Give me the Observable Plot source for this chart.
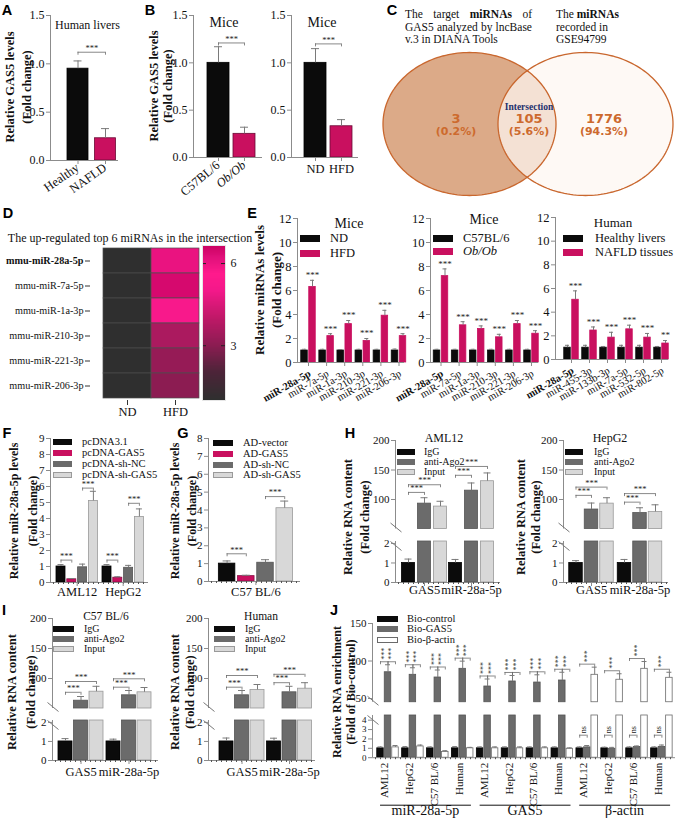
<!DOCTYPE html>
<html><head><meta charset="utf-8">
<script src="https://cdn.jsdelivr.net/npm/d3@7"></script>
<script src="https://cdn.jsdelivr.net/npm/@observablehq/plot@0.6"></script>
<style>
html,body{margin:0;padding:0;background:#fff}
#fig{position:relative;width:675px;height:821px;overflow:hidden;background:#fff}
</style></head><body><div id="fig"></div>
<script>
// ================= DATA =================
// A
const aGroups = ["Healthy", "NAFLD"];
const aMeans = [0.95, 0.23];
const aErrs = [1.03, 0.33];
const aSig = [[0, 0, 1, 0, 1.12, "***"]];
// B
const bObGroups = ["C57BL/6", "Ob/Ob"];
const bObMeans = [1.0, 0.25];
const bObErrs = [1.17, 0.32];
const bObSig = [[0, 0, 1, 0, 1.21, "***"]];
const bHfdGroups = ["ND", "HFD"];
const bHfdMeans = [1.0, 0.33];
const bHfdErrs = [1.15, 0.40];
const bHfdSig = [[0, 0, 1, 0, 1.2, "***"]];
// C
const vennCounts = [3, 105, 1776];
const vennPercents = ["(0.2%)", "(5.6%)", "(94.3%)"];
// D
const dMiRNAs = ["mmu-miR-28a-5p", "mmu-miR-7a-5p", "mmu-miR-1a-3p", "mmu-miR-210-3p", "mmu-miR-221-3p", "mmu-miR-206-3p"];
const dConditions = ["ND", "HFD"];
const dND = [1, 1, 1, 1, 1, 1];
const dHFD = [6.0, 6.4, 5.2, 3.6, 3.2, 3.0];
const dColorTicks = [3, 6];
const dColorDomain = [1, 6.66];
// E
const eMiceMiRNAs = ["miR-28a-5p", "miR-7a-5p", "miR-1a-3p", "miR-210-3p", "miR-221-3p", "miR-206-3p"];
const eHumanMiRNAs = ["miR-28a-5p", "miR-455-3p", "miR-133b-3p", "miR-7a-5p", "miR-532-5p", "miR-802-5p"];
const eND = [1, 1, 1, 1, 1, 1];
const eNDErr = [1.1, 1.1, 1.08, 1.1, 1.1, 1.12];
const eHFD = [6.3, 2.2, 3.2, 1.8, 3.9, 2.2];
const eHFDErr = [6.85, 2.4, 3.5, 2.0, 4.35, 2.4];
const eC57 = [1, 1, 1, 1, 1, 1];
const eC57Err = [1.1, 1.1, 1.1, 1.1, 1.1, 1.1];
const eOb = [7.2, 3.1, 2.8, 2.1, 3.2, 2.4];
const eObErr = [7.8, 3.4, 3.05, 2.35, 3.5, 2.65];
const eHealthy = [1, 1, 1, 1, 1, 1];
const eHealthyErr = [1.2, 1.2, 1.1, 1.2, 1.2, 1.1];
const eNAFLD = [5.05, 2.45, 1.85, 2.55, 1.85, 1.35];
const eNAFLDErr = [5.8, 2.75, 2.3, 2.9, 2.2, 1.6];
const eMiceSig = ["***", "***", "***", "***", "***", "***"];
const eHumanSig = ["***", "***", "***", "***", "***", "**"];
// F
const fGroups = ["AML12", "HepG2"];
const fSeries = ["pcDNA3.1", "pcDNA-GAS5", "pcDNA-sh-NC", "pcDNA-sh-GAS5"];
const fMeans = [[1.0, 1.0], [0.2, 0.3], [0.95, 0.92], [5.1, 4.1]];
const fErrs = [[1.12, 1.12], [0.25, 0.36], [1.15, 1.07], [5.7, 4.6]];
const fSig = [[0, 0, 0, 1, 1.4, "***"], [0, 2, 0, 3, 5.9, "***"], [1, 0, 1, 1, 1.4, "***"], [1, 2, 1, 3, 4.95, "***"]];
// G
const gGroups = ["C57 BL/6"];
const gSeries = ["AD-vector", "AD-GAS5", "AD-sh-NC", "AD-sh-GAS5"];
const gMeans = [[1.0], [0.3], [1.05], [4.1]];
const gErrs = [[1.15], [0.35], [1.22], [4.5]];
const gSig = [[0, 0, 0, 1, 1.55, "***"], [0, 2, 0, 3, 4.75, "***"]];
// H
const hGroups = ["GAS5", "miR-28a-5p"];
const hSeries = ["IgG", "anti-Ago2", "Input"];
const hAML12Means = [[1, 1], [93, 115], [88, 131]];
const hAML12Errs = [[1.2, 1.18], [103, 128], [97, 145]];
const hAML12Sig = [[0, 0, 0, 1, 112, "***"], [0, 0, 0, 2, 125, "***"], [1, 0, 1, 1, 141, "***"], [1, 0, 1, 2, 156, "***"]];
const hHepG2Means = [[1, 1], [83, 77], [93, 79]];
const hHepG2Errs = [[1.12, 1.18], [94, 86], [103, 91]];
const hHepG2Sig = [[0, 0, 0, 1, 107, "***"], [0, 0, 0, 2, 121, "***"], [1, 0, 1, 1, 95.5, "***"], [1, 0, 1, 2, 110, "***"]];
// I
const iC57Means = [[1, 1], [63, 72], [78, 77]];
const iC57Errs = [[1.15, 1.12], [70, 80], [87, 85]];
const iC57Sig = [[0, 0, 0, 1, 77, "***"], [0, 0, 0, 2, 95, "***"], [1, 0, 1, 1, 85.5, "***"], [1, 0, 1, 2, 99.5, "***"]];
const iHumanMeans = [[1, 1], [72, 77], [81, 83]];
const iHumanErrs = [[1.18, 1.17], [80, 87], [90, 93]];
const iHumanSig = [[0, 0, 0, 1, 85.5, "***"], [0, 0, 0, 2, 105, "***"], [1, 0, 1, 1, 93, "***"], [1, 0, 1, 2, 107, "***"]];
// J
const jCategories = ["miR-28a-5p", "GAS5", "β-actin"];
const jSources = ["AML12", "HepG2", "C57 BL/6", "Human"];
const jSeries = ["Bio-control", "Bio-GAS5", "Bio-β-actin"];
const jControl = [1, 1, 1, 1, 1, 1, 1, 1, 1, 1, 1, 1];
const jControlErr = [1.15, 1.18, 1.15, 1.18, 1.15, 1.15, 1.15, 1.15, 1.15, 1.12, 1.15, 1.15];
const jGAS5 = [85, 81.6, 78, 89.6, 66, 72.7, 71.3, 74, 1.1, 0.95, 1.15, 1.15];
const jGAS5Err = [95, 91, 88, 99.8, 76, 80.7, 81.6, 85, 1.3, 1.1, 1.25, 1.35];
const jActin = [1.1, 1.2, 0.6, 1.0, 1.0, 1.0, 1.0, 0.95, 81.6, 75, 89.6, 77.6];
const jActinErr = [1.3, 1.35, 0.75, 1.1, 1.15, 1.15, 1.15, 1.05, 91.8, 83, 99.3, 85];
const jStarLabel = "***";
const jNsLabel = "ns";

// ================= STYLE =================
const SERIF = '"Liberation Serif","Times New Roman",Times,serif';
const SANS = '"Liberation Sans",Arial,Helvetica,sans-serif';
const BLACK = "#0b0b0b", MAG = "#c9105f", DG = "#6b6b6b", LG = "#d8d8d8", WH = "#ffffff";
const AX = "#8c8c8c", ERR = "#7a7a7a", BR = "#6a6a6a";
const D_STOPS = [1, 2, 3, 4, 5, 5.6, 6.2, 6.66];
const D_COLORS = ["#2f2f2f", "#4c2438", "#8c1c52", "#c01868", "#f4188a", "#ff1a8c", "#e0107a", "#c8005f"];

const fig = document.getElementById("fig");
const M = 90;

function mount(box, specFn) {
  const X = px => px - (box.x0 - M), Y = py => py - (box.y0 - M);
  const spec = specFn({X, Y});
  const W = box.x1 - box.x0 + 2 * M, H = box.y1 - box.y0 + 2 * M;
  const svg = Plot.plot({
    width: W, height: H,
    marginLeft: M, marginRight: M, marginTop: M, marginBottom: M,
    style: {background: "transparent", overflow: "visible", fontFamily: SERIF, fontSize: "11px", color: "#111"},
    ...spec
  });
  Object.assign(svg.style, {position: "absolute", left: (box.x0 - M) + "px", top: (box.y0 - M) + "px", maxWidth: "none", width: W + "px", height: H + "px"});
  fig.append(svg);
}

const toSig = (arr, rot = false) => arr.map(([g1, s1, g2, s2, y, t]) => ({g1, s1, g2, s2, y, t, rot}));

function barSeg(c) {
  const n = c.vals.length;
  const u = 1 / c.step;
  const P = (i, k) => i + (k - (n - 1) / 2) * c.sp * u;
  const hw = c.bw / 2 * u, cap = (c.capPx ?? 3) * u;
  const lo = c.lo, hi = c.hi;
  const uy = (hi - lo) / (c.box.y1 - c.box.y0);
  const xd = [(c.box.x0 - c.c0) * u, (c.box.x1 - c.c0) * u];
  const rows = c.groups.flatMap((g, i) => c.vals.map((vs, k) => ({g, i, k, v: vs[i], e: c.errs[k][i]})));
  const fillOf = c.fillOf ?? (d => c.fills[d.k]);
  const strokeOf = c.strokeOf ?? (d => c.strokes[d.k]);
  const marks = [];
  marks.push(Plot.rect(rows.filter(d => d.v > lo), {
    x1: d => P(d.i, d.k) - hw, x2: d => P(d.i, d.k) + hw,
    y1: () => lo, y2: d => Math.min(d.v, hi),
    fill: fillOf, stroke: strokeOf, strokeWidth: 0.8
  }));
  const errRows = rows.filter(d => d.e > lo && d.e <= hi && d.e > d.v);
  marks.push(Plot.ruleX(errRows, {x: d => P(d.i, d.k), y1: d => Math.max(d.v, lo), y2: "e", stroke: ERR, strokeWidth: 1}));
  marks.push(Plot.ruleY(errRows, {y: "e", x1: d => P(d.i, d.k) - cap, x2: d => P(d.i, d.k) + cap, stroke: ERR, strokeWidth: 1}));
  if (c.stars) {
    marks.push(Plot.text(rows.filter(d => d.k === c.starSeries && d.e > lo && d.e <= hi), {
      x: d => P(d.i, d.k), y: "e", text: d => c.stars[d.i], dy: -5, fontSize: 9, fill: "#222"}));
  }
  if (c.sig && c.sig.length) {
    const drop = (c.dropPx ?? 3) * uy;
    const sx1 = s => P(s.g1, s.s1), sx2 = s => P(s.g2, s.s2);
    marks.push(Plot.ruleY(c.sig, {y: "y", x1: sx1, x2: sx2, stroke: BR, strokeWidth: 0.8}));
    const ends = c.sig.flatMap(s => [{x: sx1(s), y: s.y}, {x: sx2(s), y: s.y}]);
    marks.push(Plot.ruleX(ends, {x: "x", y1: "y", y2: d => d.y - drop, stroke: BR, strokeWidth: 0.8}));
    const flat = c.sig.filter(s => !s.rot), rot = c.sig.filter(s => s.rot);
    if (flat.length) marks.push(Plot.text(flat, {x: s => (sx1(s) + sx2(s)) / 2, y: "y", text: "t", dy: -4, fontSize: 8.5, fill: "#222"}));
    if (rot.length) marks.push(Plot.text(rot, {x: s => (sx1(s) + sx2(s)) / 2, y: "y", text: "t", rotate: -90, textAnchor: "start", dy: -2, fontSize: 8, fill: "#222"}));
  }
  marks.push(Plot.ruleX([xd[0]], {stroke: AX, strokeWidth: 1}));
  if (c.yTicks) marks.push(Plot.axisY({ticks: c.yTicks, tickFormat: c.yFmt ?? (d => String(d)), tickSize: 4, tickPadding: 2, fontSize: c.tickFont ?? 11, stroke: AX, fill: "#111", label: null}));
  if (c.bottom) {
    marks.push(Plot.ruleY([lo], {stroke: AX, strokeWidth: 1}));
    if (c.minor) marks.push(Plot.axisX({ticks: d3.range(xd[0] + 3 * u, xd[1], 5 * u), tickSize: 2, tickFormat: () => "", stroke: "#555", label: null}));
    if (c.major !== false) marks.push(Plot.axisX({ticks: d3.range(c.groups.length), tickSize: 4, tickFormat: () => "", stroke: AX, label: null}));
    if (c.labels) {
      const L = c.labels;
      const lab = L.texts.map((t, i) => ({i, t, st: (L.styles && L.styles[i]) || "normal"}));
      for (const st of ["normal", "bold", "italic"]) {
        const sub = lab.filter(d => d.st === st);
        if (!sub.length) continue;
        marks.push(Plot.text(sub, {x: "i", text: "t", frameAnchor: "bottom", dy: L.dy, dx: L.dx ?? 0,
          rotate: L.rotate ?? 0, textAnchor: L.anchor ?? (L.rotate ? "end" : "middle"),
          fontSize: L.size ?? 12, fontWeight: st === "bold" ? "bold" : "normal",
          fontStyle: st === "italic" ? "italic" : "normal", fill: "#111"}));
      }
    }
  }
  if (c.slash) {
    const xs = xd[0];
    const yc = c.slash === "bottom" ? lo + 2 * uy : hi - 4 * uy;
    marks.push(Plot.link([0], {x1: () => xs - 5 * u, y1: () => yc + 4 * uy, x2: () => xs + 6 * u, y2: () => yc - 5 * uy, stroke: "#777", strokeWidth: 1}));
  }
  if (c.extra) marks.push(...c.extra());
  mount(c.box, () => ({x: {domain: xd, axis: null}, y: {domain: [lo, hi], axis: null}, color: {type: "identity"}, marks}));
}

function broken(c) {
  const common = {groups: c.groups, vals: c.vals, errs: c.errs, fills: c.fills, strokes: c.strokes,
    c0: c.c0, step: c.step, sp: c.sp, bw: c.bw, capPx: c.capPx};
  barSeg({...common, box: {x0: c.x0, x1: c.x1, y0: c.up.y0, y1: c.up.y1}, lo: c.up.lo, hi: c.up.hi,
    yTicks: c.up.ticks, tickFont: c.up.font, sig: c.sigUp, slash: "bottom"});
  barSeg({...common, box: {x0: c.x0, x1: c.x1, y0: c.dn.y0, y1: c.dn.y1}, lo: c.dn.lo, hi: c.dn.hi,
    yTicks: c.dn.ticks, tickFont: c.dn.font, sig: c.sigDn, slash: "top", bottom: true, minor: true,
    major: c.major, labels: c.labels, extra: c.extra});
}

// ---------- HTML text helpers ----------
function label(html, x, y, o = {}) {
  const d = document.createElement("div");
  d.innerHTML = html;
  const ax = o.anchor === "start" ? "0%" : o.anchor === "end" ? "-100%" : "-50%";
  Object.assign(d.style, {
    position: "absolute", left: x + "px", top: y + "px", whiteSpace: "nowrap", lineHeight: "1",
    fontFamily: o.family || SERIF, fontSize: (o.size || 12) + "px", fontWeight: o.weight || "normal",
    fontStyle: o.style || "normal", color: o.color || "#111",
    transform: `translate(${ax},-50%)` + (o.rotate ? ` rotate(${o.rotate}deg)` : "")
  });
  fig.append(d);
  return d;
}
function swatch(x, y, w, h, fill, stroke) {
  const d = document.createElement("div");
  Object.assign(d.style, {position: "absolute", left: x + "px", top: (y - h / 2) + "px", width: w + "px", height: h + "px",
    background: fill, border: stroke ? `1px solid ${stroke}` : "none", boxSizing: "border-box"});
  fig.append(d);
}
function legend(names, styles, sx, sw, sh, tx, ys, size, italics = []) {
  names.forEach((name, j) => {
    swatch(sx, ys[j], sw, sh, styles[j][0], styles[j][1]);
    label(name, tx, ys[j], {anchor: "start", size, style: italics[j] ? "italic" : "normal"});
  });
}
function ytitle(l1, l2, x1, x2, y, size) {
  label(l1, x1, y, {rotate: -90, weight: "bold", size});
  label(l2, x2, y, {rotate: -90, weight: "bold", size});
}
function justifiedLine(words, x, y, w, size) {
  const d = document.createElement("div");
  Object.assign(d.style, {position: "absolute", left: x + "px", top: (y - size / 2) + "px", width: w + "px",
    display: "flex", justifyContent: "space-between", fontFamily: SERIF, fontSize: size + "px", lineHeight: "1", color: "#111", whiteSpace: "nowrap"});
  d.innerHTML = words.map(wd => `<span>${wd}</span>`).join("");
  fig.append(d);
}

// ================= PANEL A =================
barSeg({box: {x0: 50, x1: 118, y0: 15, y1: 160}, groups: aGroups, vals: [aMeans], errs: [aErrs],
  fillOf: d => [BLACK, MAG][d.i], strokeOf: d => ["#000", "#6a0a35"][d.i],
  c0: 77.5, step: 27.5, sp: 0, bw: 21, lo: 0, hi: 1.5, yTicks: [0, 0.5, 1, 1.5], yFmt: d3.format(".1f"), tickFont: 12,
  bottom: true, capPx: 4, sig: toSig(aSig),
  labels: {texts: aGroups, rotate: -35, dy: 9, dx: 2, size: 12.5}});

// ================= PANEL B =================
barSeg({box: {x0: 193, x1: 262, y0: 15, y1: 157}, groups: bObGroups, vals: [bObMeans], errs: [bObErrs],
  fillOf: d => [BLACK, MAG][d.i], strokeOf: d => ["#000", "#6a0a35"][d.i],
  c0: 218, step: 26, sp: 0, bw: 22, lo: 0, hi: 1.5, yTicks: [0, 0.5, 1, 1.5], yFmt: d3.format(".1f"), tickFont: 12,
  bottom: true, capPx: 4, sig: toSig(bObSig),
  labels: {texts: bObGroups, styles: ["normal", "italic"], rotate: -40, dy: 9, dx: 2, size: 12.5}});
barSeg({box: {x0: 291, x1: 358, y0: 15, y1: 157}, groups: bHfdGroups, vals: [bHfdMeans], errs: [bHfdErrs],
  fillOf: d => [BLACK, MAG][d.i], strokeOf: d => ["#000", "#6a0a35"][d.i],
  c0: 315, step: 26, sp: 0, bw: 22, lo: 0, hi: 1.5, yTicks: [0, 0.5, 1, 1.5], yFmt: d3.format(".1f"), tickFont: 12,
  bottom: true, capPx: 4, sig: toSig(bHfdSig),
  labels: {texts: bHfdGroups, dy: 15, size: 12.5}});

// ================= PANEL C (Venn) =================
{
  const L = {cx: 87, cy: 71.5, rx: 86.5, ry: 71.5}, R = {cx: 203, cy: 71.5, rx: 87.5, ry: 71.5};
  const ell = e => d3.range(0, 360, 2).map(a => ({x: e.cx + e.rx * Math.cos(a * Math.PI / 180), y: e.cy + e.ry * Math.sin(a * Math.PI / 180)}));
  const pl = ell(L), pr = ell(R);
  const lx = [L.cx - 13.5, (L.cx + R.cx) / 2 + 1.5, R.cx + 18.5];
  const ORG = "#cd6a2e";
  mount({x0: 381.5, x1: 671.5, y0: 52, y1: 195}, () => ({
    x: {domain: [0, 290], axis: null}, y: {domain: [143, 0], axis: null},
    marks: [
      Plot.line(pl, {x: "x", y: "y", curve: "linear-closed", fill: "#dcaa88", stroke: "none"}),
      Plot.line(pr, {x: "x", y: "y", curve: "linear-closed", fill: "#fdf6f1", fillOpacity: 0.72, stroke: "none"}),
      Plot.line(pl, {x: "x", y: "y", curve: "linear-closed", stroke: "#c9672e", strokeWidth: 1.3}),
      Plot.line(pr, {x: "x", y: "y", curve: "linear-closed", stroke: "#c9672e", strokeWidth: 1.3}),
      Plot.text(["Intersection"], {x: () => lx[1], y: () => 54, text: d => d, fontWeight: "bold", fontSize: 9.5, fill: "#22306e", fontFamily: SERIF}),
      Plot.text(vennCounts, {x: (d, i) => lx[i], y: () => 66, text: d => String(d), fontWeight: "bold", fontSize: 13, fill: ORG, fontFamily: '"DejaVu Sans",Verdana,sans-serif'}),
      Plot.text(vennPercents, {x: (d, i) => lx[i], y: () => 78.5, text: d => d, fontWeight: "bold", fontSize: 11, fill: ORG, fontFamily: '"DejaVu Sans",Verdana,sans-serif'})
    ]
  }));
}

// ================= PANEL D (heatmap) =================
{
  const dRows = dMiRNAs.flatMap((m, r) => [{m, c: dConditions[0], v: dND[r]}, {m, c: dConditions[1], v: dHFD[r]}]);
  const colorOpt = {type: "linear", domain: D_STOPS, range: D_COLORS, clamp: true};
  mount({x0: 90, x1: 199, y0: 245, y1: 400}, ({X}) => ({
    x: {type: "band", domain: dConditions, range: [X(102), X(199)], padding: 0, axis: null},
    y: {type: "band", domain: dMiRNAs, padding: 0, axis: null},
    color: colorOpt,
    marks: [
      Plot.cell(dRows, {x: "c", y: "m", fill: "v", stroke: "#4e4e4e", strokeWidth: 0.7}),
      Plot.axisX({tickSize: 5, tickPadding: 2, fontSize: 12.5, stroke: "#333", fill: "#111", label: null}),
      Plot.axisY({tickSize: 5, tickFormat: () => "", stroke: "#333", label: null}),
      Plot.text(dMiRNAs.slice(0, 1), {y: d => d, text: d => d, frameAnchor: "left", dx: -7, textAnchor: "end", fontWeight: "bold", fontSize: 10.2, fill: "#111"}),
      Plot.text(dMiRNAs.slice(1), {y: d => d, text: d => d, frameAnchor: "left", dx: -7, textAnchor: "end", fontSize: 10.2, fill: "#111"})
    ]
  }));
  const ramp = d3.range(dColorDomain[0], dColorDomain[1], 0.03);
  mount({x0: 202, x1: 225, y0: 245, y1: 400}, () => ({
    x: {domain: [0, 1], axis: null}, y: {domain: dColorDomain, axis: null},
    color: colorOpt,
    marks: [
      Plot.rect(ramp, {x1: () => 0, x2: () => 1, y1: d => d, y2: d => Math.min(d + 0.045, dColorDomain[1]), fill: d => d, shapeRendering: "crispEdges"}),
      Plot.ruleY(dColorTicks, {stroke: "#222", insetRight: 19}),
      Plot.ruleY(dColorTicks, {stroke: "#222", insetLeft: 19}),
      Plot.axisY({anchor: "right", ticks: dColorTicks, tickFormat: d => String(d), tickSize: 0, tickPadding: 5, fontSize: 12, fill: "#111", label: null}),
      Plot.frame({stroke: "#e6e6e6"})
    ]
  }));
}

// ================= PANEL E =================
const eCommon = {fills: [BLACK, MAG], strokes: [BLACK, MAG], step: 18.1, sp: 8, bw: 6.5, lo: 0, hi: 12,
  yTicks: d3.range(0, 13, 2), tickFont: 12.5, bottom: true, capPx: 2, starSeries: 1};
barSeg({...eCommon, box: {x0: 297, x1: 404, y0: 218, y1: 362}, c0: 308, groups: eMiceMiRNAs,
  vals: [eND, eHFD], errs: [eNDErr, eHFDErr], stars: eMiceSig,
  labels: {texts: eMiceMiRNAs, styles: ["bold"], rotate: -30, dy: 13, dx: 3, size: 10.5}});
barSeg({...eCommon, box: {x0: 430, x1: 538, y0: 218, y1: 362}, c0: 440.5, groups: eMiceMiRNAs,
  vals: [eC57, eOb], errs: [eC57Err, eObErr], stars: eMiceSig,
  labels: {texts: eMiceMiRNAs, styles: ["bold"], rotate: -30, dy: 13, dx: 3, size: 10.5}});
barSeg({...eCommon, box: {x0: 555, x1: 668, y0: 217, y1: 359}, c0: 571, step: 18, groups: eHumanMiRNAs,
  vals: [eHealthy, eNAFLD], errs: [eHealthyErr, eNAFLDErr], stars: eHumanSig,
  labels: {texts: eHumanMiRNAs, styles: ["bold"], rotate: -30, dy: 13, dx: 3, size: 10.5}});

// ================= PANEL F =================
barSeg({box: {x0: 50, x1: 148, y0: 438, y1: 582}, groups: fGroups, vals: fMeans, errs: fErrs,
  fills: [BLACK, MAG, DG, LG], strokes: ["#000", "#8a0b45", "#555", "#9a9a9a"],
  c0: 76.7, step: 46, sp: 10.8, bw: 9, lo: 0, hi: 9, yTicks: d3.range(0, 10), tickFont: 11,
  bottom: true, minor: true, capPx: 3, sig: toSig(fSig), labels: {texts: fGroups, dy: 13, size: 12.5}});

// ================= PANEL G =================
barSeg({box: {x0: 208, x1: 300, y0: 438, y1: 581}, groups: gGroups, vals: gMeans, errs: gErrs,
  fills: [BLACK, MAG, DG, LG], strokes: ["#000", "#8a0b45", "#555", "#9a9a9a"],
  c0: 255.4, step: 100, sp: 19.2, bw: 16.5, lo: 0, hi: 8, yTicks: d3.range(0, 9), tickFont: 11,
  bottom: true, minor: true, capPx: 4, sig: toSig(gSig), labels: {texts: gGroups, dy: 14, size: 12.5}});

// ================= PANEL H / I =================
const ripFills = [BLACK, DG, LG], ripStrokes = ["#000", "#555", "#9a9a9a"];
const hUp = {y0: 440, y1: 528.5, lo: 50, hi: 200, ticks: [100, 150, 200], font: 11};
const hDn = {y0: 541, y1: 582, lo: 0, hi: 2.1, ticks: [0, 1, 2], font: 11};
broken({x0: 395, x1: 500, up: hUp, dn: hDn, groups: hGroups, vals: hAML12Means, errs: hAML12Errs,
  fills: ripFills, strokes: ripStrokes, c0: 424, step: 47, sp: 16, bw: 13, capPx: 3.5,
  sigUp: toSig(hAML12Sig), labels: {texts: hGroups, dy: 11, size: 12.5}});
broken({x0: 563, x1: 668, up: hUp, dn: hDn, groups: hGroups, vals: hHepG2Means, errs: hHepG2Errs,
  fills: ripFills, strokes: ripStrokes, c0: 591, step: 48.5, sp: 15.5, bw: 13.5, capPx: 3.5,
  sigUp: toSig(hHepG2Sig), labels: {texts: hGroups, dy: 11, size: 12.5}});
const iUp = {y0: 618, y1: 708, lo: 50, hi: 200, ticks: [100, 150, 200], font: 11};
const iDn = {y0: 720, y1: 760, lo: 0, hi: 2.1, ticks: [0, 1, 2], font: 11};
broken({x0: 52, x1: 158, up: iUp, dn: iDn, groups: hGroups, vals: iC57Means, errs: iC57Errs,
  fills: ripFills, strokes: ripStrokes, c0: 80.5, step: 48, sp: 15.5, bw: 14, capPx: 3.5,
  sigUp: toSig(iC57Sig), labels: {texts: hGroups, dy: 15, size: 12.5}});
broken({x0: 208, x1: 315, up: iUp, dn: iDn, groups: hGroups, vals: iHumanMeans, errs: iHumanErrs,
  fills: ripFills, strokes: ripStrokes, c0: 241.5, step: 47.5, sp: 15.5, bw: 14, capPx: 3.5,
  sigUp: toSig(iHumanSig), labels: {texts: hGroups, dy: 15, size: 12.5}});

// ================= PANEL J =================
{
  const nG = jControl.length;
  const jSigUp = [];
  for (let i = 0; i < nG; i++) {
    if (jGAS5[i] > 45) {
      jSigUp.push([i, 0, i, 1, jGAS5Err[i] + 4, jStarLabel], [i, 1, i, 2, jGAS5Err[i] + 4, jStarLabel]);
    } else {
      jSigUp.push([i, 0, i, 2, jActinErr[i] + 4, jStarLabel]);
    }
  }
  const jSigDn = d3.range(nG).filter(i => jActin[i] > 45).map(i => [i, 0, i, 1, 2.4, jNsLabel]);
  const jLabels = jCategories.flatMap(() => jSources);
  broken({x0: 372, x1: 675,
    up: {y0: 623, y1: 701.75, lo: 45, hi: 150, ticks: [50, 100, 150], font: 11},
    dn: {y0: 715.3, y1: 757.5, lo: 0, hi: 4.5, ticks: [0, 1, 2, 3, 4], font: 9},
    groups: jLabels, vals: [jControl, jGAS5, jActin], errs: [jControlErr, jGAS5Err, jActinErr],
    fills: [BLACK, DG, WH], strokes: ["#000", "#555", "#6a6a6a"],
    c0: 387.5, step: 24.9, sp: 7.5, bw: 6.5, capPx: 2.5, major: false,
    sigUp: toSig(jSigUp, true), sigDn: toSig(jSigDn, true),
    labels: {texts: jLabels, rotate: -90, anchor: "end", dy: 5, size: 11},
    extra: () => {
      const cats = jCategories.map((name, j) => ({name, a: j * jSources.length, b: j * jSources.length + jSources.length - 1}));
      return [
        Plot.ruleY(cats, {y: () => 0, x1: d => d.a - 0.3, x2: d => d.b + 0.35, dy: 47.5, stroke: "#111", strokeWidth: 1}),
        Plot.text(cats, {x: d => (d.a + d.b) / 2, text: "name", frameAnchor: "bottom", dy: 57, fontSize: 14, fill: "#111"})
      ];
    }});
}

// ================= TEXT: letters, titles, legends =================
const LET = {family: SANS, weight: "bold", size: 14.5, color: "#000"};
[["A", 7, 10], ["B", 150, 10], ["C", 392, 10], ["D", 8, 213], ["E", 252, 213], ["F", 7, 433], ["G", 183, 433], ["H", 350, 433], ["I", 4, 610], ["J", 334, 610]]
  .forEach(([t, x, y]) => label(t, x, y, LET));

// A / B
label("Human livers", 87.5, 25, {size: 12});
label("Mice", 224, 23, {size: 14});
label("Mice", 322, 23, {size: 14});
ytitle("Relative GAS5 levels", "(Fold change)", 10, 27, 87, 12.5);
ytitle("Relative GAS5 levels", "(Fold change)", 154, 168, 86, 12.5);

// C
justifiedLine(["The", "target", "<b>miRNAs</b>", "of"], 405, 15, 127, 11.5);
justifiedLine(["GAS5", "analyzed", "by", "lncBase"], 405, 27.5, 127, 11.5);
label("v.3 in DIANA Tools", 405, 40, {anchor: "start", size: 11.5});
label("The <b>miRNAs</b>", 556, 15, {anchor: "start", size: 11.5});
label("recorded in", 556, 27.5, {anchor: "start", size: 11.5});
label("GSE94799", 556, 40, {anchor: "start", size: 11.5});

// D
label("The up-regulated top 6 miRNAs in the intersection", 130, 238, {size: 12});

// E
ytitle("Relative miRNAs levels", "(Fold change)", 259, 276, 290, 13);
label("Mice", 349, 224, {size: 14});
legend(["ND", "HFD"], [[BLACK], [MAG]], 300, 20, 7, 330, [238, 253], 12.5);
label("Mice", 484, 220, {size: 14});
legend(["C57BL/6", "Ob/Ob"], [[BLACK], [MAG]], 433, 20, 7, 463, [238, 251], 12.5, [false, true]);
label("Human", 613, 222, {size: 13});
legend(["Healthy livers", "NAFLD tissues"], [[BLACK], [MAG]], 563, 20, 7, 595, [238, 252], 12.5);

// F / G
ytitle("Relative miR-28a-5p levels", "(Fold change)", 14, 33, 511, 12);
legend(fSeries, [[BLACK], [MAG], [DG], [LG, "#9a9a9a"]], 53, 19, 5.5, 82, [442, 453, 464, 475], 10.5);
ytitle("Relative miR-28a-5p levels", "(Fold change)", 175, 192, 511, 12);
legend(gSeries, [[BLACK], [MAG], [DG], [LG, "#9a9a9a"]], 213, 20, 5.5, 243, [443, 454, 465, 475], 10.5);

// H
ytitle("Relative RNA content", "(Fold change)", 348, 365, 517, 12.5);
label("AML12", 444, 438, {size: 12});
legend(hSeries, [[BLACK], [DG], [LG, "#9a9a9a"]], 397, 18, 6, 424, [452, 462, 472], 10);
ytitle("Relative RNA content", "(Fold change)", 521, 536, 517, 12.5);
label("HepG2", 610, 438, {size: 12});
legend(hSeries, [[BLACK], [DG], [LG, "#9a9a9a"]], 565, 18, 6, 594, [452, 462, 472], 10);

// I
ytitle("Relative RNA content", "(Fold change)", 12, 31, 692, 12.5);
label("C57 BL/6", 106, 616.5, {size: 11.5});
legend(hSeries, [[BLACK], [DG], [LG, "#9a9a9a"]], 53, 21, 6, 84, [628.5, 638.5, 648.5], 10);
ytitle("Relative RNA content", "(Fold change)", 175, 190, 692, 12.5);
label("Human", 261, 616.5, {size: 11.5});
legend(hSeries, [[BLACK], [DG], [LG, "#9a9a9a"]], 214, 21, 6, 245, [628.5, 638.5, 648.5], 10);

// J
ytitle("Relative RNA enrichment", "(Fold of Bio-control)", 337, 351, 692, 12);
legend(jSeries, [[BLACK], [DG], [WH, "#6a6a6a"]], 377, 21, 6, 407, [618.5, 629, 639.5], 10.5);
</script></body></html>
